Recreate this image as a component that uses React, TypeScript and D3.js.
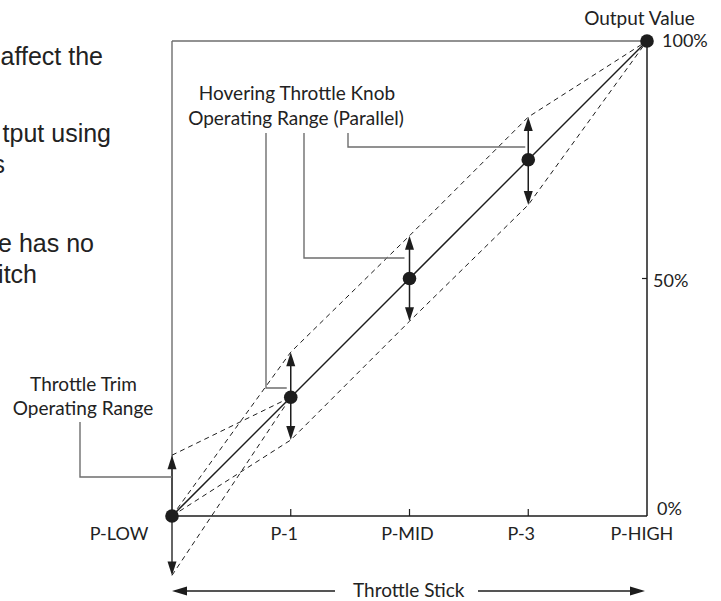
import React from 'react';
import * as d3 from 'd3';

// ---- data ----
const positions = ['P-LOW', 'P-1', 'P-MID', 'P-3', 'P-HIGH'];
const outputValues = [0, 25, 50, 75, 100];
const hoverUpper = [0, 34.5, 59, 84, 100];
const hoverLower = [0, 16, 41, 65.5, 100];
const trimPositions = ['P-LOW', 'P-1'];
const trimUpper = [12.8, 25];
const trimLower = [-12.5, 25];
const yTicks = [0, 50, 100];
const yTickLabels = ['0%', '50%', '100%'];
const paragraphLines = ['affect the', 'tput using', 's', 'e has no', 'itch'];

// ---- layout ----
const W = 721;
const H = 601;
const X0 = 172, X1 = 647, YTOP = 41, YBOT = 516;
const xLabelDx = [-53, -6.5, -2, -7, -5];
const yLabel = [{ x: 657, dy: -1 }, { x: 653, dy: 8.5 }, { x: 662, dy: 6 }];
const paraLayout = [
  { x: 103, y: 65 }, { x: 111, y: 142 }, { x: 5, y: 173 }, { x: 94, y: 252 }, { x: 37, y: 283 },
];

const INK = '#1d1d1d';
const GRAY = '#6e6e6e';
const LABEL_FONT = 'Lato, "Noto Sans", sans-serif';

function head(x: number, y: number, dir: 'up' | 'down' | 'left' | 'right', len = 14, half = 4.5) {
  switch (dir) {
    case 'up': return `M${x},${y}L${x - half},${y + len}L${x + half},${y + len}Z`;
    case 'down': return `M${x},${y}L${x - half},${y - len}L${x + half},${y - len}Z`;
    case 'left': return `M${x},${y}L${x + len},${y - half}L${x + len},${y + half}Z`;
    default: return `M${x},${y}L${x - len},${y - half}L${x - len},${y + half}Z`;
  }
}

export default function App() {
  const x = d3.scalePoint<string>().domain(positions).range([X0, X1]);
  const y = d3.scaleLinear().domain([0, 100]).range([YBOT, YTOP]);

  const line = d3.line<[string, number]>().x(d => x(d[0]) as number).y(d => y(d[1]));
  const mainPath = line(positions.map((p, i) => [p, outputValues[i]]))!;
  const upPath = line(positions.map((p, i) => [p, hoverUpper[i]]))!;
  const loPath = line(positions.map((p, i) => [p, hoverLower[i]]))!;
  const trimUpPath = line(trimPositions.map((p, i) => [p, trimUpper[i]]))!;
  const trimLoPath = line(trimPositions.map((p, i) => [p, trimLower[i]]))!;

  const xL = x('P-LOW') as number;
  const x1 = x('P-1') as number;
  const xM = x('P-MID') as number;
  const x3 = x('P-3') as number;
  const xH = x('P-HIGH') as number;

  const hoverIdx = [1, 2, 3];
  const arrowY = 591;

  return (
    <svg width={W} height={H} style={{ position: 'absolute', left: 0, top: 0, background: '#fff' }}>
      {/* cut-off paragraph at left */}
      {paragraphLines.map((t, i) => (
        <text key={t} x={paraLayout[i].x} y={paraLayout[i].y} textAnchor="end"
          fontFamily='"Liberation Sans", Arial, sans-serif' fontSize={25} fill="#222">{t}</text>
      ))}

      {/* frame */}
      <line x1={xL} y1={y(100)} x2={xH} y2={y(100)} stroke={GRAY} strokeWidth={1.4} />
      <line x1={xL} y1={y(100)} x2={xL} y2={y(0)} stroke={GRAY} strokeWidth={1.4} />
      <line x1={xH} y1={y(100)} x2={xH} y2={y(0)} stroke={INK} strokeWidth={1.5} />
      <line x1={xL} y1={y(0)} x2={xH} y2={y(0)} stroke={INK} strokeWidth={1.5} />

      {/* x ticks */}
      {positions.slice(1, 4).map(p => (
        <line key={p} x1={x(p)} x2={x(p)} y1={y(0)} y2={y(0) - 7} stroke={INK} strokeWidth={1.2} />
      ))}
      {/* y tick */}
      <line x1={xH - 5} x2={xH} y1={y(50)} y2={y(50)} stroke={INK} strokeWidth={1.2} />

      {/* dashed lines */}
      {[upPath, loPath, trimUpPath, trimLoPath].map((d, i) => (
        <path key={i} d={d} fill="none" stroke={INK} strokeWidth={1} strokeDasharray="5,4" />
      ))}

      {/* main line */}
      <path d={mainPath} fill="none" stroke={INK} strokeWidth={1.5} />

      {/* hover arrows */}
      {hoverIdx.map(i => {
        const px = x(positions[i]) as number;
        const yu = y(hoverUpper[i]);
        const yl = y(hoverLower[i]);
        return (
          <g key={i}>
            <line x1={px} x2={px} y1={yu + 10} y2={yl - 10} stroke={INK} strokeWidth={1.5} />
            <path d={head(px, yu, 'up')} fill={INK} />
            <path d={head(px, yl, 'down')} fill={INK} />
          </g>
        );
      })}

      {/* trim arrows */}
      <line x1={xL} x2={xL} y1={y(trimUpper[0]) + 10} y2={y(trimLower[0]) - 10} stroke="#333" strokeWidth={1.5} />
      <path d={head(xL, y(trimUpper[0]), 'up')} fill={INK} />
      <path d={head(xL, y(trimLower[0]), 'down')} fill={INK} />

      {/* dots */}
      {positions.map((p, i) => (
        <circle key={p} cx={x(p)} cy={y(outputValues[i])} r={6.8} fill={INK} />
      ))}

      {/* callouts */}
      <g fill="none" stroke={GRAY} strokeWidth={1.4}>
        <polyline points={`266,133 266,388 ${x1 - 4},388`} />
        <polyline points={`304,133 304,258 ${xM - 5},258`} />
        <polyline points={`348,133 348,147 ${x3 - 3},147`} />
        <polyline points={`80,422 80,477 ${xL},477`} />
      </g>

      <g fontFamily={LABEL_FONT} fill="#222" fontSize={19}>
        <text x={297} y={100} textAnchor="middle">Hovering Throttle Knob</text>
        <text x={296} y={125} textAnchor="middle">Operating Range (Parallel)</text>
        <text x={83.5} y={391} textAnchor="middle">Throttle Trim</text>
        <text x={83} y={415} textAnchor="middle">Operating Range</text>
        <text x={639.5} y={25} textAnchor="middle">Output Value</text>
      </g>

      {/* y labels */}
      <g fontFamily={LABEL_FONT} fill="#222" fontSize={18}>
        {yTicks.map((v, i) => (
          <text key={v} x={yLabel[i].x} y={y(v) + yLabel[i].dy}>{yTickLabels[i]}</text>
        ))}
        {positions.map((p, i) => (
          <text key={p} x={(x(p) as number) + xLabelDx[i]} y={540} textAnchor="middle">{p}</text>
        ))}
      </g>

      {/* throttle stick arrow */}
      <line x1={xL + 12} x2={335} y1={arrowY} y2={arrowY} stroke={INK} strokeWidth={1.3} />
      <line x1={478} x2={xH - 12} y1={arrowY} y2={arrowY} stroke={INK} strokeWidth={1.3} />
      <path d={head(xL, arrowY, 'left', 15, 4.5)} fill={INK} />
      <path d={head(xH - 2, arrowY, 'right', 15, 4.5)} fill={INK} />
      <text x={353} y={597} fontFamily={LABEL_FONT} fontSize={19} fill="#222">Throttle Stick</text>
    </svg>
  );
}
